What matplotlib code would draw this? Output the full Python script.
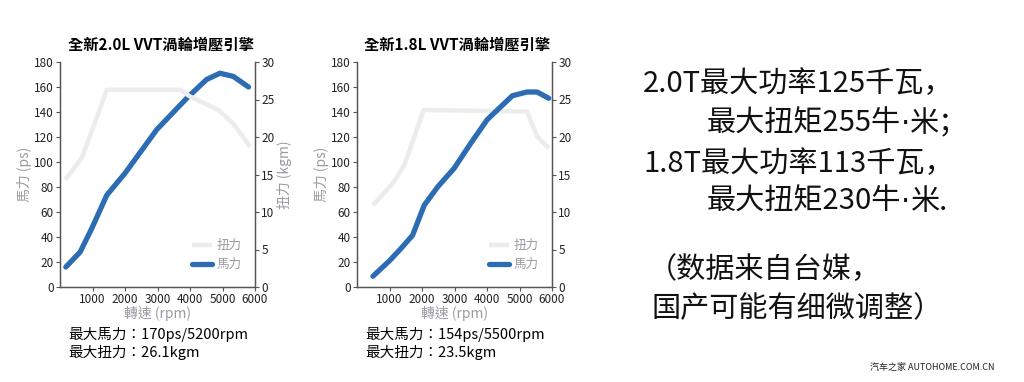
import matplotlib
matplotlib.use("Agg")
import matplotlib.pyplot as plt

plt.rcParams['font.family'] = ['Noto Sans CJK TC', 'DejaVu Sans']

# 2.0L engine curves
rpm_20_ps = [180, 620, 980, 1440, 2000, 2980, 3900, 4510, 4920, 5330, 5800]
ps_20 = [16, 28, 47, 73.5, 91, 126, 151, 166, 171, 168.5, 160]
rpm_20_tq = [160, 670, 1030, 1440, 3700, 4000, 4870, 5330, 5850]
tq_20 = [14.3, 17.2, 21.4, 26.3, 26.3, 25.4, 23.6, 21.8, 18.7]

# 1.8L engine curves
rpm_18_ps = [490, 1000, 1360, 1710, 2070, 2480, 2990, 3500, 4010, 4780, 5230, 5540, 5900]
ps_18 = [8.6, 21, 31, 41.4, 65.5, 80, 95, 115, 134, 153, 156, 156, 151]
rpm_18_tq = [490, 1100, 1460, 1770, 2050, 5230, 5540, 5900]
tq_18 = [10.9, 13.8, 16.3, 20.1, 23.6, 23.4, 20.1, 18.5]

titles = ['全新2.0L VVT渦輪增壓引擎', '全新1.8L VVT渦輪增壓引擎']
notes = [['最大馬力：170ps/5200rpm', '最大扭力：26.1kgm'],
         ['最大馬力：154ps/5500rpm', '最大扭力：23.5kgm']]
# each line split into pieces so the middle dot can stay narrow
right_lines = [['2.0T最大功率125千瓦，'], ['最大扭矩255牛', '·', '米；'],
               ['1.8T最大功率113千瓦，'], ['最大扭矩230牛', '·', '米.'],
               ['（数据来自台媒，'], ['国产可能有细微调整）']]

W, H = 1024, 382
fig = plt.figure(figsize=(W / 100, H / 100), dpi=100)

blue = '#2b6cb3'
light = '#ececec'
label_gray = '#9a9aa2'
spine = '#555555'


def px(x0, y0, x1, y1):
    return [x0 / W, 1 - y1 / H, (x1 - x0) / W, (y1 - y0) / H]


def engine(x0, x1, title, rpm_ps, ps, rpm_tq, tq, note, right_label, torque_top):
    ax = fig.add_axes(px(x0, 62, x1, 287))
    ax2 = ax.twinx()
    if not torque_top:
        ax.set_zorder(ax2.get_zorder() + 1)
        ax.patch.set_visible(False)
    l1, = ax2.plot(rpm_tq, tq, color=light, lw=3.2, solid_capstyle='butt')
    l2, = ax.plot(rpm_ps, ps, color=blue, lw=3.8, solid_capstyle='round')
    ax.set_xlim(0, 6000)
    ax.set_ylim(0, 180)
    ax2.set_ylim(0, 30)
    ax.set_xticks(range(1000, 7000, 1000))
    ax.set_yticks(range(0, 181, 20))
    ax2.set_yticks(range(0, 31, 5))
    for a in (ax, ax2):
        a.spines['top'].set_visible(False)
        for s in ('left', 'right', 'bottom'):
            a.spines[s].set_color(spine)
            a.spines[s].set_linewidth(0.9)
        a.tick_params(labelsize=8.5, length=3, width=0.8, color=spine,
                      labelcolor='#222222', pad=1.5)
    ax.set_xlabel('轉速 (rpm)', color=label_gray, fontsize=10, labelpad=0)
    ax.set_ylabel('馬力 (ps)', color=label_gray, fontsize=10, labelpad=1)
    if right_label:
        ax2.set_ylabel('扭力 (kgm)', color=label_gray, fontsize=10, labelpad=2)
    top = ax2 if torque_top else ax
    leg = top.legend([l1, l2], ['扭力', '馬力'], loc='lower right',
                     bbox_to_anchor=(0.99, 0.02), frameon=False,
                     fontsize=9, handlelength=1.6, labelspacing=0.5,
                     handletextpad=0.4)
    for t in leg.get_texts():
        t.set_color(label_gray)
    cx = (x0 + x1) / 2 + 3
    fig.text(cx / W, 1 - 45 / H, title, ha='center', va='center',
             fontsize=11, fontweight='bold')
    fig.text((x0 + 8) / W, 1 - 334 / H, note[0], ha='left', va='center', fontsize=10.5)
    fig.text((x0 + 8) / W, 1 - 353 / H, note[1], ha='left', va='center', fontsize=10.5)


engine(60, 255, titles[0], rpm_20_ps, ps_20, rpm_20_tq, tq_20, notes[0], True, True)
engine(357, 552, titles[1], rpm_18_ps, ps_18, rpm_18_tq, tq_18, notes[1], False, False)

sc = ['Noto Sans CJK SC', 'DejaVu Sans']
xs = [643, 707, 643, 707, 648, 652]
ys = [92, 132, 172, 210, 278, 317]
renderer = fig.canvas.get_renderer()
for pieces, x, y in zip(right_lines, xs, ys):
    xf = x / W
    for p in pieces:
        fam = ['DejaVu Sans'] if p == '·' else sc
        t = fig.text(xf, 1 - y / H, p, ha='left', va='baseline', fontsize=21,
                     family=fam, color='#111111')
        xf = t.get_window_extent(renderer).x1 / W

fig.text(870 / W, 1 - 367 / H, '汽车之家 AUTOHOME.COM.CN', ha='left', va='center',
         fontsize=6.5, family=sc, color='#222222')

fig.savefig('out.png', dpi=100)
